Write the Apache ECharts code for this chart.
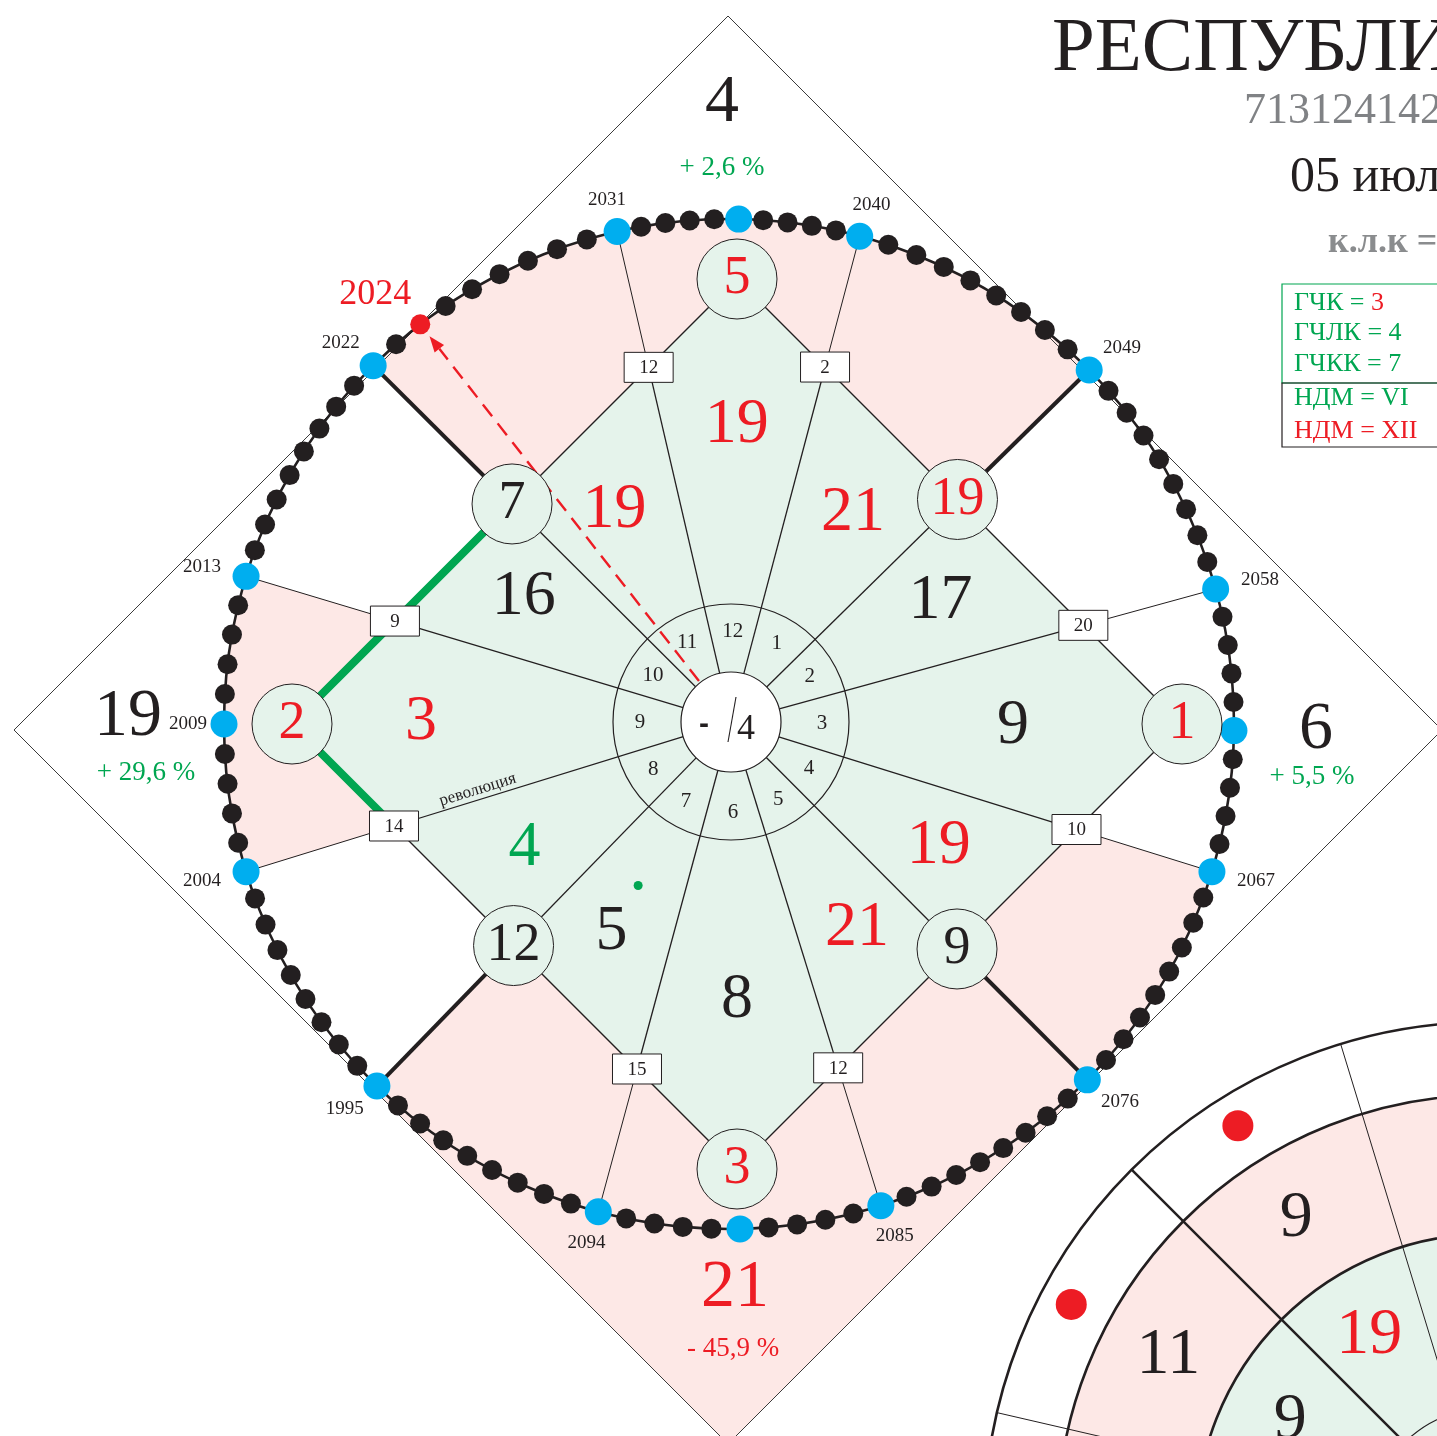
<!DOCTYPE html>
<html lang="ru">
<head>
<meta charset="utf-8">
<title>Республика</title>
<script src="https://cdn.jsdelivr.net/npm/echarts@6.0.0/dist/echarts.min.js"></script>
<style>
html,body{margin:0;padding:0;background:#ffffff;overflow:hidden}
#chart{width:1437px;height:1436px}
</style>
</head>
<body>
<div id="chart"></div>
<script>
// ================= DATA =================
const sectorValues = [19, 21, 17, 9, 19, 21, 8, 5, 4, 3, 16, 19];          // sectors at 0°,30°,...,330°
const sectorColors = ['r', 'r', 'k', 'k', 'r', 'r', 'k', 'k', 'g', 'r', 'k', 'r'];
const ringLabels = ['12', '1', '2', '3', '4', '5', '6', '7', '8', '9', '10', '11'];
const vertexValues = [5, 19, 1, 9, 3, 12, 2, 7];                            // nodes at 0°,45°,...,315°
const vertexColors = ['r', 'r', 'r', 'k', 'r', 'k', 'r', 'k'];
const boxValues = [2, 20, 10, 12, 15, 14, 9, 12];                           // boxes on the inner square
const blueYears = [2040, 2049, 2058, 2067, 2076, 2085, 2094, 1995, 2004, 2013, 2022, 2031];
const cardinalMidLabels = ['', '', '', '2009'];                              // top, right, bottom, left
const currentYear = 2024;
const cornerValues = [4, 6, 21, 19];                                         // top, right, bottom, left
const cornerValueColors = ['k', 'k', 'r', 'k'];
const cornerPercents = ['+ 2,6 %', '+ 5,5 %', '- 45,9 %', '+ 29,6 %'];
const cornerPercentColors = ['g', 'g', 'r', 'g'];
const markedSectors = [7];
const spokeNotes = [{ boundary: 8, text: 'революция' }];
const greenBoundaries = [8, 10];
const pinkSpans = [{ from: 10, to: 13 }, { from: 8, to: 9 }, { from: 3, to: 7, corner: true }];
const hubLeft = '-', hubRight = '4';
const secondOuterValues = [9, 11];
const secondOuterColors = ['k', 'k'];
const secondInnerValues = [19, 9];
const secondInnerColors = ['r', 'k'];
const titleText = 'РЕСПУБЛИКА';
const codeText = '713124142';
const dateText = '05 июля';
const klkText = 'к.л.к =';
const legendRows = [
  ['ГЧК = ', '3', 'g', 'r'],
  ['ГЧЛК = ', '4', 'g', 'g'],
  ['ГЧКК = ', '7', 'g', 'g'],
  ['НДМ = ', 'VI', 'g', 'g'],
  ['НДМ = ', 'XII', 'r', 'r']
];

// ================= LAYOUT / STYLE =================
const W = 1437, H = 1436;
const DOT_C = [729, 724], DOT_R = 505;
const RING_C = [731, 722], RING_R = 118, HUB_R = 50, RING_TXT_R = 91;
const DIA_C = [737, 724], DIA_D = 445;
const OUT_C = [728, 730], OUT_D = 714;
const BOUNDARY_ANGLES = [15, 45.5, 74.5, 107, 134.8, 162.5, 195, 224.2, 253, 287, 315.2, 347.2];
const NODE_R = 40, BOX_W = 49, BOX_H = 30;
const SECT_R = 242, CARD_SECT_R = [297, 282, 278, 310];
const CORNER_R = [621, 587, 564, 601];
const CORNER_D = [[-7, 0], [0, 6], [6, 0], [0, -7]];
const PCT_OFF = [[0, 65], [-4, 47], [-2, 61], [18, 56]];
const C2 = [1488, 1526];
const C2_R = [504, 431, 292, 118];
const C2_ANG = [328, 298];
const C2_THIN = [283, 343];

const COL = { r: '#ed1c24', k: '#231f20', g: '#00a651' };
const PINK = '#fde8e6', GFILL = '#e5f3eb', BLUE = '#00aeef', INK = '#231f20', GRAY = '#808285';
const SERIF = '"Liberation Serif", "Times New Roman", serif';
const font = (s, w) => (w ? w + ' ' : '') + s + 'px ' + SERIF;

// ================= GEOMETRY HELPERS =================
const rad = d => d * Math.PI / 180;
const polar = (c, r, deg) => [c[0] + r * Math.sin(rad(deg)), c[1] - r * Math.cos(rad(deg))];
const angleFrom = (o, p) => Math.atan2(p[0] - o[0], -(p[1] - o[1])) * 180 / Math.PI;
function rayDiamond(o, deg, q, D) {
  const s = Math.sin(rad(deg)), c = Math.cos(rad(deg));
  const f = t => Math.abs(o[0] + t * s - q[0]) + Math.abs(o[1] - t * c - q[1]) - D;
  let lo = 0, hi = 3000;
  for (let i = 0; i < 60; i++) { const m = (lo + hi) / 2; if (f(m) < 0) lo = m; else hi = m; }
  return [o[0] + lo * s, o[1] - lo * c];
}
function arcPts(c, r, a0, a1) {
  const n = Math.max(2, Math.ceil(Math.abs(a1 - a0)));
  const pts = [];
  for (let i = 0; i <= n; i++) pts.push(polar(c, r, a0 + (a1 - a0) * i / n));
  return pts;
}
const bAng = k => BOUNDARY_ANGLES[k % 12] + (k >= 12 ? 360 : 0);
const isDiag = k => k % 3 === 1;
const isCardSection = k => k % 3 === 2;
const sectionMid = k => (bAng(k) + bAng(k + 1)) / 2;
const sectorAngle = i => sectionMid((i + 11) % 12);
const bluePos = BOUNDARY_ANGLES.map(a => polar(DOT_C, DOT_R, a));
const nodePos = bluePos.map(p => rayDiamond(RING_C, angleFrom(RING_C, p), DIA_C, DIA_D));
const cardVertex = a => polar(DIA_C, DIA_D, a);
const diaVerts = [0, 90, 180, 270].map(cardVertex);
const vertexPos = vertexValues.map((v, i) => i % 2 === 0 ? cardVertex(45 * i) : nodePos[(i - 1) / 2 * 3 + 1]);
const boxBoundaries = [0, 2, 3, 5, 6, 8, 9, 11];

// dots around the year circle
const dots = [];
const yearTags = [];
for (let k = 0; k < 12; k++) {
  const a0 = bAng(k), a1 = bAng(k + 1);
  dots.push({ pos: bluePos[k], kind: 'blue' });
  yearTags.push({ pos: bluePos[k], ang: a0, text: String(blueYears[k]), d: 46 });
  const n = isCardSection(k) ? 10 : 9;
  for (let j = 1; j < n; j++) {
    const a = a0 + (a1 - a0) * j / n;
    const p = polar(DOT_C, DOT_R, a);
    if (n === 10 && j === 5) {
      dots.push({ pos: p, kind: 'blue' });
      const lbl = cardinalMidLabels[((k + 1) / 3) % 4];
      if (lbl) yearTags.push({ pos: p, ang: a, text: lbl, d: 36 });
    } else {
      const year = blueYears[k] + (n === 10 && j > 5 ? j - 1 : j);
      dots.push({ pos: p, kind: year === currentYear ? 'red' : 'black', ang: a, year });
    }
  }
}
const redDot = dots.find(d => d.kind === 'red');
const dotOrder = ['black', 'blue', 'red'];
const dotStyle = { black: [20, INK], blue: [27, BLUE], red: [20, COL.r] };

// ================= ELEMENT BUILDERS =================
function txt(p, text, size, color, o) {
  o = o || {};
  const al = o.align || 'center';
  return {
    type: 'text', x: p[0], y: p[1], rotation: o.rot || 0,
    style: { x: 0, y: 0, text: String(text), fill: color, font: o.font || font(size, o.weight),
      align: al, textAlign: al, verticalAlign: 'middle', textVerticalAlign: 'middle' }
  };
}
const seg = (a, b, lw, color, dash) => ({ type: 'line', shape: { x1: a[0], y1: a[1], x2: b[0], y2: b[1] },
  style: { stroke: color || INK, lineWidth: lw, lineDash: dash || null, fill: null } });
const ring = (c, r, lw, fill, stroke) => ({ type: 'circle', shape: { cx: c[0], cy: c[1], r },
  style: { fill: fill || null, stroke: stroke || null, lineWidth: lw } });

function single(name, z, fn) {
  return { type: 'custom', name, z, silent: true, clip: false, data: [[0, 0]],
    renderItem: (params, api) => ({ type: 'group', children: fn(v => api.coord(v), r => api.size([r, 0])[0]) }) };
}
function perItem(name, z, values, fn) {
  return { type: 'custom', name, z, silent: true, clip: false, data: values.map((v, i) => [i, typeof v === 'number' ? v : 0]),
    renderItem: (params, api) => ({ type: 'group', children: fn(params.dataIndex, v => api.coord(v), r => api.size([r, 0])[0]) }) };
}

// ================= SERIES =================
const series = [];

// fills: pink sectors + green inner square
series.push(single('fills', 1, (P) => {
  const ch = [];
  pinkSpans.forEach(sp => {
    let pts = [RING_C];
    if (!sp.corner) {
      pts = pts.concat(arcPts(DOT_C, DOT_R, bAng(sp.from), bAng(sp.to)));
    } else {
      let kd = sp.from; while (!isDiag(kd % 12)) kd++;
      pts = pts.concat(arcPts(DOT_C, DOT_R, bAng(sp.from), bAng(kd)));
      pts.push(rayDiamond(DOT_C, bAng(kd), OUT_C, OUT_D));
      pts.push([OUT_C[0], OUT_C[1] + OUT_D]);
      pts.push(rayDiamond(DOT_C, bAng(sp.to), OUT_C, OUT_D));
    }
    ch.push({ type: 'polygon', shape: { points: pts.map(P) }, style: { fill: PINK } });
  });
  ch.push({ type: 'polygon', shape: { points: diaVerts.map(P) }, style: { fill: GFILL } });
  return ch;
}));

// second (partial) diagram, bottom right
series.push(single('second', 2, (P, S) => {
  const c = P(C2);
  const ch = [];
  ch.push(ring(c, S(C2_R[1]), 0, PINK));
  ch.push(ring(c, S(C2_R[2]), 0, GFILL));
  ch.push(seg(P(polar(C2, C2_R[3], 315)), P(polar(C2, C2_R[0], 315)), 2.5));
  C2_THIN.forEach(a => ch.push(seg(P(polar(C2, C2_R[3], a)), P(polar(C2, C2_R[0], a)), 1)));
  ch.push(ring(c, S(C2_R[0]), 2.6, null, INK));
  ch.push(ring(c, S(C2_R[1]), 2.6, null, INK));
  ch.push(ring(c, S(C2_R[2]), 2.6, null, INK));
  ch.push(ring(c, S(C2_R[3]), 1.2, null, INK));
  C2_ANG.forEach((a, i) => {
    ch.push(ring(P(polar(C2, 472, a)), 15.5, 0, COL.r));
    ch.push(txt(P(polar(C2, 362, a)), secondOuterValues[i], 66, COL[secondOuterColors[i]]));
    ch.push(txt(P(polar(C2, 224, a)), secondInnerValues[i], 66, COL[secondInnerColors[i]]));
  });
  return ch;
}));

// frame: outer square, circle, inner square, spokes
series.push(single('frame', 3, (P, S) => {
  const ch = [];
  const od = [[OUT_C[0], OUT_C[1] - OUT_D], [OUT_C[0] + OUT_D, OUT_C[1]], [OUT_C[0], OUT_C[1] + OUT_D], [OUT_C[0] - OUT_D, OUT_C[1]]];
  ch.push({ type: 'polygon', shape: { points: od.map(P) }, style: { fill: null, stroke: '#3b3b3b', lineWidth: 1 } });
  ch.push({ type: 'polygon', shape: { points: diaVerts.map(P) }, style: { fill: null, stroke: INK, lineWidth: 1.4 } });
  for (let k = 0; k < 12; k++) {
    const a = angleFrom(RING_C, nodePos[k]);
    ch.push(seg(P(polar(RING_C, HUB_R, a)), P(nodePos[k]), 1.3));
    ch.push(seg(P(nodePos[k]), P(bluePos[k]), isDiag(k) ? 4 : 1));
  }
  // highlighted (green) stretch of the inner square
  const gp = [];
  for (let k = greenBoundaries[0]; k <= greenBoundaries[1]; k++) {
    gp.push(nodePos[k % 12]);
    if (k < greenBoundaries[1] && isCardSection(k % 12)) gp.push(cardVertex(((k % 12) + 1) / 3 * 90 % 360));
  }
  ch.push({ type: 'polyline', shape: { points: gp.map(P) }, style: { fill: null, stroke: COL.g, lineWidth: 8, lineJoin: 'miter' } });
  ch.push(ring(P(DOT_C), S(DOT_R), 2.6, null, INK));
  ch.push(ring(P(RING_C), S(RING_R), 1.2, null, INK));
  ch.push(ring(P(RING_C), S(HUB_R), 1.2, '#ffffff', INK));
  return ch;
}));

// dots on the year circle
dotOrder.forEach((kind, i) => {
  series.push({
    type: 'scatter', name: 'dots-' + kind, z: 5 + i, silent: true, symbol: 'circle',
    symbolSize: dotStyle[kind][0], itemStyle: { color: dotStyle[kind][1], opacity: 1 },
    emphasis: { disabled: true },
    data: dots.filter(d => d.kind === kind).map(d => d.pos)
  });
});

// red dashed arrow to the current year
series.push(single('arrow', 8, (P) => {
  const u = angleFrom(RING_C, redDot.pos);
  const start = polar(RING_C, HUB_R + 2, u);
  const dist = Math.hypot(redDot.pos[0] - RING_C[0], redDot.pos[1] - RING_C[1]);
  const tip = polar(RING_C, dist - 15, u);
  const base = polar(RING_C, dist - 31, u);
  const l = polar(base, 6, u - 90), r = polar(base, 6, u + 90);
  return [
    seg(P(start), P(base), 2.4, COL.r, [15, 9]),
    { type: 'polygon', shape: { points: [tip, l, r].map(P) }, style: { fill: COL.r } }
  ];
}));

// node circles
series.push(perItem('nodes', 9, vertexValues, (i, P, S) => {
  const p = P(vertexPos[i]);
  return [ring(p, S(NODE_R), 1, GFILL, INK), txt(p, vertexValues[i], 54, COL[vertexColors[i]])];
}));

// boxes
series.push(perItem('boxes', 9, boxValues, (i, P) => {
  const p = P(nodePos[boxBoundaries[i]]);
  return [
    { type: 'rect', shape: { x: p[0] - BOX_W / 2, y: p[1] - BOX_H / 2, width: BOX_W, height: BOX_H },
      style: { fill: '#ffffff', stroke: INK, lineWidth: 1 } },
    txt([p[0], p[1] + 1], boxValues[i], 19, INK)
  ];
}));

// sector values
series.push(perItem('sectors', 10, sectorValues, (i, P) => {
  const r = i % 3 === 0 ? CARD_SECT_R[i / 3] : SECT_R;
  return [txt(P(polar(RING_C, r, sectorAngle(i))), sectorValues[i], 64, COL[sectorColors[i]])];
}));

// marker dots inside sectors
series.push(perItem('markers', 10, markedSectors, (i, P) => [ring(P(polar(RING_C, 188, sectorAngle(markedSectors[i]))), 4.5, 0, COL.g)]));

// clock ring labels
series.push(perItem('ringLabels', 10, ringLabels, (i, P) => [txt(P(polar(RING_C, RING_TXT_R, sectorAngle(i))), ringLabels[i], 21, INK)]));

// hub
series.push(single('hub', 11, (P) => [
  txt(P([RING_C[0] - 27, RING_C[1] + 3]), hubLeft, 30, INK, { font: 'bold 30px "Liberation Sans", sans-serif' }),
  seg(P([RING_C[0] - 3, RING_C[1] + 20]), P([RING_C[0] + 5, RING_C[1] - 25]), 1.1),
  txt(P([RING_C[0] + 15, RING_C[1] + 8]), hubRight, 36, INK)
]));

// year labels
series.push(perItem('years', 11, yearTags.map(t => +t.text), (i, P) => {
  const t = yearTags[i];
  const p = [t.pos[0] + t.d * Math.sin(rad(t.ang)), t.pos[1] - 32 * Math.cos(rad(t.ang))];
  return [txt(P(p), t.text, 19, INK)];
}));
series.push(single('currentYear', 11, (P) => [txt(P([redDot.pos[0] - 45, redDot.pos[1] - 30]), currentYear, 36, COL.r)]));

// note on a spoke
series.push(perItem('notes', 11, spokeNotes.map(n => n.boundary), (i, P) => {
  const n = spokeNotes[i];
  const a = angleFrom(RING_C, nodePos[n.boundary]);
  const onLine = polar(RING_C, 262, a);
  const p = polar(onLine, 10, a + 90);
  const rot = rad(a - 270);
  return [txt(P(p), n.text, 17, INK, { rot: -rot })];
}));

// corner values and percentages
series.push(perItem('corners', 11, cornerValues, (i, P) => {
  const base = polar(DOT_C, CORNER_R[i], 90 * i);
  const v = [base[0] + CORNER_D[i][0], base[1] + CORNER_D[i][1]];
  const pc = [v[0] + PCT_OFF[i][0], v[1] + PCT_OFF[i][1]];
  return [txt(P(v), cornerValues[i], 68, COL[cornerValueColors[i]]), txt(P(pc), cornerPercents[i], 27, COL[cornerPercentColors[i]])];
}));

// ================= TITLE & LEGEND =================
const gtxt = (x, y, text, f, fill) => ({ type: 'text', x, y, silent: true,
  style: { text, font: f, fill, align: 'left', textAlign: 'left', verticalAlign: 'middle', textVerticalAlign: 'middle' } });
const graphic = [
  gtxt(1052, 50, titleText, font(77), INK),
  gtxt(1244, 111, codeText, font(44), GRAY),
  gtxt(1290, 178, dateText, font(50), INK),
  gtxt(1328, 243, klkText, font(36, 'bold'), '#8a8c8e'),
  { type: 'rect', silent: true, shape: { x: 1282, y: 284, width: 220, height: 99 }, style: { fill: '#ffffff', stroke: COL.g, lineWidth: 1.2 } },
  { type: 'rect', silent: true, shape: { x: 1282, y: 383, width: 220, height: 64 }, style: { fill: null, stroke: INK, lineWidth: 1.2 } }
];
const legendY = [303, 333, 364, 398, 431];
legendRows.forEach((row, i) => {
  graphic.push({ type: 'text', x: 1294, y: legendY[i], silent: true,
    style: { text: '{a|' + row[0] + '}{b|' + row[1] + '}', align: 'left', textAlign: 'left', verticalAlign: 'middle', textVerticalAlign: 'middle',
      rich: { a: { fill: COL[row[2]], font: font(26) }, b: { fill: COL[row[3]], font: font(26) } } } });
});

const chart = echarts.init(document.getElementById('chart'), null, { renderer: 'canvas', width: W, height: H });
chart.setOption({
  animation: false,
  backgroundColor: '#ffffff',
  grid: { left: 0, right: 0, top: 0, bottom: 0 },
  xAxis: { type: 'value', min: 0, max: W, show: false },
  yAxis: { type: 'value', min: 0, max: H, inverse: true, show: false },
  tooltip: { show: false },
  graphic,
  series
});
</script>
</body>
</html>
